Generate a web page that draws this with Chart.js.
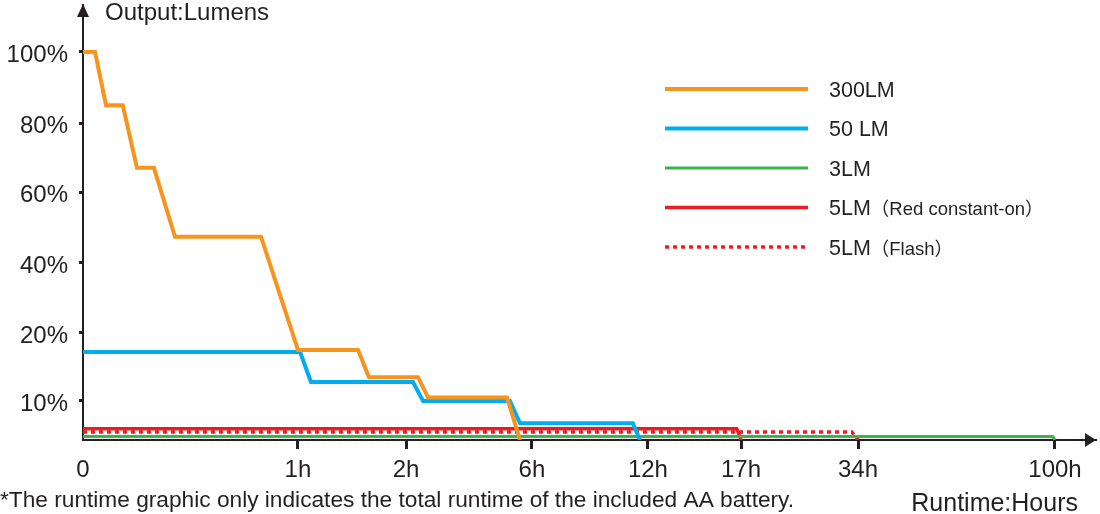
<!DOCTYPE html>
<html>
<head>
<meta charset="utf-8">
<script src="https://cdn.jsdelivr.net/npm/chart.js@4/dist/chart.umd.min.js"></script>
<style>
  html, body { margin: 0; padding: 0; background: #fff; }
  #wrap { width: 1100px; height: 514px; position: relative; }
</style>
</head>
<body>
<div id="wrap"><canvas id="runtime"></canvas></div>
<script>
// --- données ---
const xTickHours = [0, 1, 2, 6, 12, 17, 34, 100];
const xTickLabels = ['0', '1h', '2h', '6h', '12h', '17h', '34h', '100h'];
const yTickValues = [10, 20, 40, 60, 80, 100];
const yTickLabels = ['10%', '20%', '40%', '60%', '80%', '100%'];

const seriesNames = ['300LM', '50 LM', '3LM', '5LM', '5LM'];
const seriesNotes = ['', '', '', '（Red constant-on）', '（Flash）'];

const hours300 = [0, 0.056, 0.107, 0.185, 0.251, 0.33, 0.428, 0.828, 1.0, 1.556, 1.657, 2.38, 2.70, 5.21, 5.62];
const pct300   = [100, 100, 85, 85, 67, 67, 47.4, 47.4, 17.5, 17.5, 13.5, 13.5, 10.5, 10.5, 0];
const hours50  = [0, 1.02, 1.12, 2.22, 2.54, 5.30, 5.62, 11.22, 11.59];
const pct50    = [17.2, 17.2, 12.8, 12.8, 10, 10, 4.3, 4.3, 0];
const hours3   = [0, 99.3, 100];
const pct3     = [0.9, 0.9, 0];
const hoursRed = [0, 16.77, 17];
const pctRed   = [2.9, 2.9, 0];
const hoursFlash = [0, 33.1, 34];
const pctFlash   = [2.05, 2.05, 0];

const yAxisTitle = 'Output:Lumens';
const xAxisTitle = 'Runtime:Hours';
const footnote = '*The runtime graphic only indicates the total runtime of the included AA battery.';

// --- mise en page des axes (échelle non linéaire de l'original) ---
const INK = '#231f20';
const FONT = '"Liberation Sans", Arial, sans-serif';
const axisStops = {
  x: { values: xTickHours, fracs: [0, 0.2122, 0.3189, 0.4432, 0.5577, 0.6496, 0.7651, 0.9595] },
  y: { values: [0, 10, 20, 40, 60, 80, 100], fracs: [0, 0.0897, 0.246, 0.4069, 0.5701, 0.7287, 0.892] }
};

function toFrac(stops, v) {
  const vs = stops.values, fs = stops.fracs;
  let i = 0;
  while (i < vs.length - 2 && v > vs[i + 1]) i++;
  return fs[i] + (v - vs[i]) / (vs[i + 1] - vs[i]) * (fs[i + 1] - fs[i]);
}

class StopScale extends Chart.LinearScale {
  buildTicks() {
    const vals = this.axis === 'x' ? xTickHours : yTickValues;
    return vals.map(v => ({ value: v }));
  }
  getPixelForValue(value) {
    const f = toFrac(axisStops[this.axis], value);
    return this.isHorizontal() ? this.left + f * this.width : this.bottom - f * this.height;
  }
  getValueForPixel(pixel) {
    return 0;
  }
}
StopScale.id = 'stops';
StopScale.defaults = Chart.LinearScale.defaults;
Chart.register(StopScale);

function pts(xs, ys) {
  return xs.map((x, i) => ({ x: x, y: ys[i] }));
}

function line(label, xs, ys, color, width, dash) {
  return {
    label: label, data: pts(xs, ys), borderColor: color, borderWidth: width,
    borderDash: dash || [], pointRadius: 0, tension: 0, fill: false,
    borderCapStyle: 'butt', borderJoinStyle: 'miter'
  };
}

// dessin du décor : flèches, titres, note, légende
const decorPlugin = {
  id: 'decor',
  afterDraw(chart) {
    const ctx = chart.ctx, a = chart.chartArea;
    ctx.save();
    ctx.fillStyle = INK;
    ctx.beginPath();
    ctx.moveTo(a.left, a.top - 1);
    ctx.lineTo(a.left - 6, a.top + 12);
    ctx.lineTo(a.left + 6, a.top + 12);
    ctx.closePath(); ctx.fill();
    ctx.beginPath();
    ctx.moveTo(a.right, a.bottom);
    ctx.lineTo(a.right - 11, a.bottom - 7);
    ctx.lineTo(a.right - 11, a.bottom + 7);
    ctx.closePath(); ctx.fill();

    ctx.textBaseline = 'alphabetic';
    ctx.textAlign = 'left';
    ctx.font = '24px ' + FONT;
    ctx.fillText(yAxisTitle, 105, 20);
    ctx.textAlign = 'right';
    ctx.font = '25px ' + FONT;
    ctx.fillText(xAxisTitle, 1078, 511);
    ctx.textAlign = 'left';
    ctx.font = '22.7px ' + FONT;
    ctx.fillText(footnote, 0, 507);

    chart.data.datasets.forEach((ds, i) => {
      const y = 89 + i * 39.5;
      ctx.strokeStyle = ds.borderColor;
      ctx.lineWidth = ds.borderWidth;
      ctx.setLineDash(ds.borderDash || []);
      ctx.beginPath(); ctx.moveTo(665, y); ctx.lineTo(808, y); ctx.stroke();
      ctx.setLineDash([]);
      ctx.fillStyle = INK;
      ctx.font = '21.5px ' + FONT;
      ctx.fillText(ds.label, 829, y + 7.7);
      if (seriesNotes[i]) {
        const w = ctx.measureText(ds.label).width;
        ctx.font = '18.5px ' + FONT + ', "Noto Sans CJK SC"';
        ctx.fillText(seriesNotes[i], 829 + w, y + 7.7);
      }
    });
    ctx.restore();
  }
};

new Chart(document.getElementById('runtime'), {
  type: 'line',
  data: {
    datasets: [
      line(seriesNames[0], hours300, pct300, '#f7941d', 4),
      line(seriesNames[1], hours50, pct50, '#00aeef', 4),
      line(seriesNames[2], hours3, pct3, '#39b54a', 3),
      line(seriesNames[3], hoursRed, pctRed, '#ed1c24', 3.5),
      line(seriesNames[4], hoursFlash, pctFlash, '#ed1c24', 3.5, [4, 4])
    ]
  },
  options: {
    responsive: true, maintainAspectRatio: false, animation: false,
    layout: { padding: { top: 5, right: 4, left: 0, bottom: 0 } },
    scales: {
      x: {
        type: 'stops', min: 0, max: 120,
        border: { display: true, color: INK, width: 2 },
        grid: {
          drawOnChartArea: false, drawTicks: true, tickLength: 9, tickWidth: 3,
          tickColor: c => (c.tick && c.tick.value === 0) ? 'rgba(0,0,0,0)' : INK
        },
        ticks: {
          autoSkip: false, maxRotation: 0, padding: 7, color: INK,
          font: { family: FONT, size: 24 },
          callback: v => xTickLabels[xTickHours.indexOf(v)]
        },
        afterFit: s => { s.height = 74; s.paddingLeft = 0; s.paddingRight = 0; }
      },
      y: {
        type: 'stops', min: 0, max: 112,
        border: { display: true, color: INK, width: 2 },
        grid: { drawOnChartArea: false, drawTicks: true, tickLength: 4, tickWidth: 3, tickColor: INK },
        ticks: {
          autoSkip: false, padding: 11, color: INK, labelOffset: 3,
          font: { family: FONT, size: 24 },
          callback: v => yTickLabels[yTickValues.indexOf(v)]
        },
        afterFit: s => { s.width = 83; s.paddingTop = 0; s.paddingBottom = 0; }
      }
    },
    plugins: { legend: { display: false }, tooltip: { enabled: false } }
  },
  plugins: [decorPlugin]
});
</script>
</body>
</html>
